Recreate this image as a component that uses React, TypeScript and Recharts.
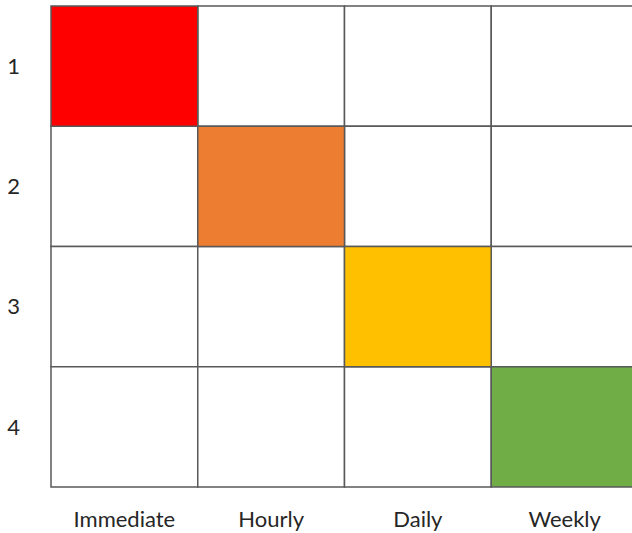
import React from "react"
import {
  ComposedChart,
  XAxis,
  YAxis,
  ReferenceArea,
  Scatter,
} from "recharts"

const categories = ["Immediate", "Hourly", "Daily", "Weekly"]
const priorities = ["1", "2", "3", "4"]

// which cell is filled for each priority row
const highlightCategory = ["Immediate", "Hourly", "Daily", "Weekly"]
const highlightColors = ["#FF0000", "#ED7D31", "#FFC000", "#70AD47"]

const cells = priorities.flatMap((p, row) =>
  categories.map((c, col) => ({
    priority: p,
    category: c,
    x: col + 0.5,
    y: row + 0.5,
    fill: highlightCategory[row] === c ? highlightColors[row] : "#FFFFFF",
  }))
)

const tickStyle = { fontFamily: "Lato", fontSize: 22, fill: "#262626" }

export default function App() {
  const plain = cells.filter((d) => d.fill === "#FFFFFF")
  const colored = cells.filter((d) => d.fill !== "#FFFFFF")

  return (
    <div
      style={{
        position: "fixed",
        top: 0,
        left: 0,
        width: 632,
        height: 533,
        overflow: "hidden",
        background: "#fff",
      }}
    >
      <ComposedChart
        width={650}
        height={533}
        data={cells}
        margin={{ top: 6, right: 12, bottom: 0, left: 0 }}
      >
        <XAxis
          type="number"
          dataKey="x"
          domain={[0, 4]}
          ticks={[0.5, 1.5, 2.5, 3.5]}
          tickFormatter={(v: number) => categories[Math.floor(v)]}
          axisLine={false}
          tickLine={false}
          tickSize={0}
          tickMargin={24}
          height={46}
          tick={tickStyle}
          interval={0}
        />
        <YAxis
          type="number"
          dataKey="y"
          domain={[0, 4]}
          reversed
          ticks={[0.5, 1.5, 2.5, 3.5]}
          tickFormatter={(v: number) => priorities[Math.floor(v)]}
          axisLine={false}
          tickLine={false}
          tickSize={0}
          tickMargin={31}
          width={51}
          tick={tickStyle}
          interval={0}
        />
        {plain.concat(colored).map((d, i) => (
          <ReferenceArea
            key={`cell-${i}`}
            x1={d.x - 0.5}
            x2={d.x + 0.5}
            y1={d.y - 0.5}
            y2={d.y + 0.5}
            fill={d.fill}
            fillOpacity={1}
            stroke="#595959"
            strokeWidth={1.5}
            ifOverflow="extendDomain"
          />
        ))}
        <Scatter
          data={cells}
          dataKey="y"
          shape={() => <g />}
          isAnimationActive={false}
        />
      </ComposedChart>
    </div>
  )
}
